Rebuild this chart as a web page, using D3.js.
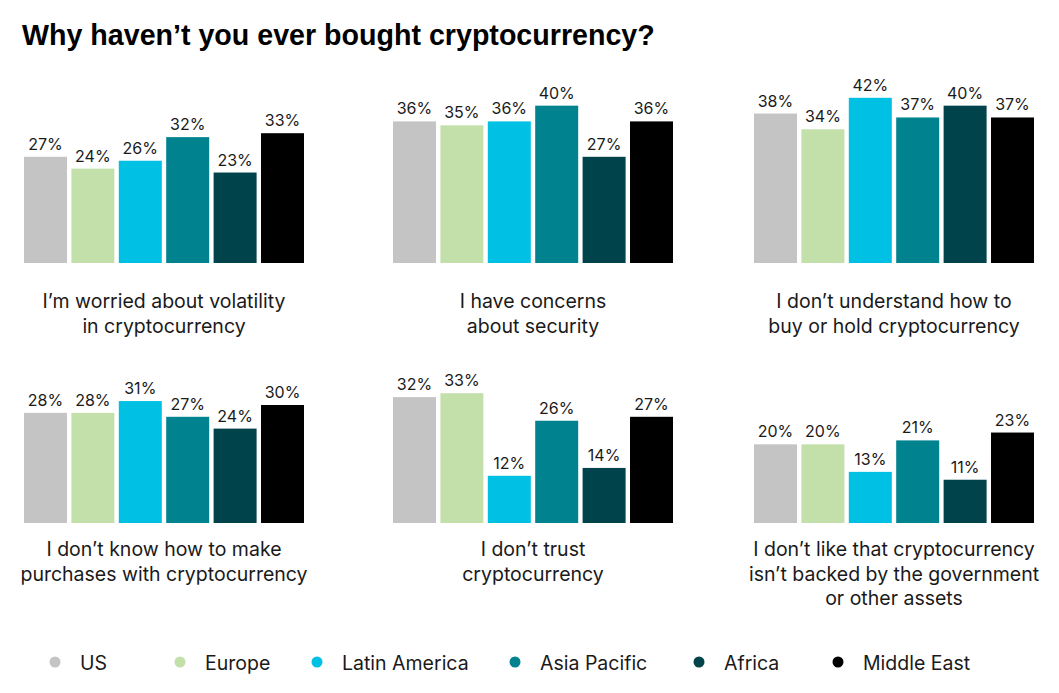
<!DOCTYPE html>
<html>
<head>
<meta charset="utf-8">
<script src="https://cdn.jsdelivr.net/npm/d3@7"></script>
<style>
  html, body { margin: 0; padding: 0; background: #ffffff; }
  svg { display: block; }
</style>
</head>
<body>
<svg id="chart" width="1059" height="693"></svg>
<script>
// ---- Data ----
const regions = ["US", "Europe", "Latin America", "Asia Pacific", "Africa", "Middle East"];
const regionColors = ["#c4c4c4", "#c3e0ab", "#00c0e3", "#00838f", "#00434a", "#000000"];

const questionLabels = [
  ["I\u2019m worried about volatility", "in cryptocurrency"],
  ["I have concerns", "about security"],
  ["I don\u2019t understand how to", "buy or hold cryptocurrency"],
  ["I don\u2019t know how to make", "purchases with cryptocurrency"],
  ["I don\u2019t trust", "cryptocurrency"],
  ["I don\u2019t like that cryptocurrency", "isn\u2019t backed by the government", "or other assets"]
];

const volatilityValues = [27, 24, 26, 32, 23, 33];
const securityValues   = [36, 35, 36, 40, 27, 36];
const understandValues = [38, 34, 42, 37, 40, 37];
const purchasesValues  = [28, 28, 31, 27, 24, 30];
const trustValues      = [32, 33, 12, 26, 14, 27];
const backedValues     = [20, 20, 13, 21, 11, 23];

const seriesValues = [volatilityValues, securityValues, understandValues,
                      purchasesValues, trustValues, backedValues];

const titleText = "Why haven\u2019t you ever bought cryptocurrency?";

// ---- Layout ----
const panelX = [24, 393, 754];
const panelW = 280;
const rowBase = [263, 523];
const rowLabelY = [308, 556];
const plotH = 177;          // px for 45%
const legendX = [55, 180, 317, 515, 699, 838];
const legendY = 663;

const svg = d3.select("#chart");
const textColor = "#1a1a1a";
const font = "Inter, 'Noto Sans', sans-serif";

// Title
const title = svg.append("text")
  .attr("x", 22).attr("y", 45)
  .attr("font-family", "'Liberation Sans', Arial, sans-serif")
  .attr("font-weight", "bold")
  .attr("font-size", 26)
  .attr("fill", "#000")
  .text(titleText);
const tw = title.node().getComputedTextLength();
title.attr("font-size", 26 * 633 / tw);

const x = d3.scaleBand().domain(regions).range([0, panelW]).paddingInner(0.093).paddingOuter(0);

seriesValues.forEach((vals, i) => {
  const col = i % 3, row = Math.floor(i / 3);
  const base = rowBase[row];
  const y = d3.scaleLinear().domain([0, 45]).range([base, base - plotH]);
  const g = svg.append("g").attr("transform", `translate(${panelX[col]},0)`);
  const data = regions.map((r, k) => ({ region: r, value: vals[k], color: regionColors[k] }));

  g.selectAll("rect").data(data).join("rect")
    .attr("x", d => x(d.region))
    .attr("width", x.bandwidth())
    .attr("y", d => y(d.value))
    .attr("height", d => y(0) - y(d.value))
    .attr("fill", d => d.color);

  g.selectAll("text.val").data(data).join("text")
    .attr("class", "val")
    .attr("x", d => x(d.region) + x.bandwidth() / 2)
    .attr("y", d => y(d.value) - 7)
    .attr("text-anchor", "middle")
    .attr("font-family", font)
    .attr("font-size", 16)
    .attr("fill", textColor)
    .text(d => d.value + "%");

  const lbl = g.append("text")
    .attr("text-anchor", "middle")
    .attr("font-family", font)
    .attr("font-size", 19.5)
    .attr("fill", textColor);
  questionLabels[i].forEach((line, li) => {
    lbl.append("tspan")
      .attr("x", panelW / 2)
      .attr("y", rowLabelY[row] + li * 24.5)
      .text(line);
  });
});

// Legend
const lg = svg.append("g");
regions.forEach((r, k) => {
  lg.append("circle")
    .attr("cx", legendX[k]).attr("cy", legendY - 1)
    .attr("r", 5.5)
    .attr("fill", regionColors[k]);
  lg.append("text")
    .attr("x", legendX[k] + 25).attr("y", legendY)
    .attr("dominant-baseline", "central")
    .attr("font-family", font)
    .attr("font-size", 19.5)
    .attr("fill", textColor)
    .text(r);
});
</script>
</body>
</html>
